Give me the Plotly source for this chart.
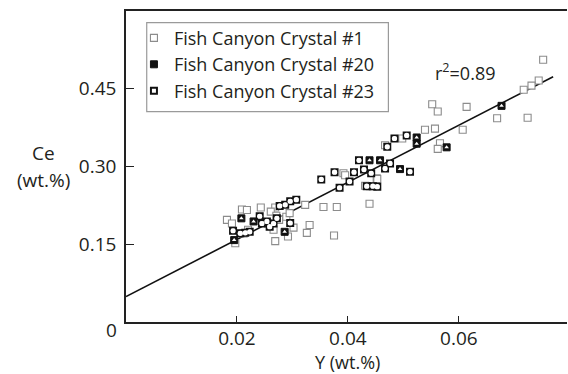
import plotly.graph_objects as go

# ---- data ----
x1 = [0.0752, 0.0744, 0.0731, 0.0717, 0.0724, 0.0669, 0.0614, 0.0607, 0.0552, 0.0562,
      0.0539, 0.0557, 0.0566, 0.0562, 0.0498, 0.0467, 0.0439, 0.0431, 0.0452, 0.0392,
      0.0356, 0.0380, 0.0375, 0.0326, 0.0331, 0.0302, 0.0292, 0.0269, 0.0266, 0.0269,
      0.0243, 0.0209, 0.0182, 0.0191, 0.0197, 0.0212, 0.0220, 0.0276, 0.0289, 0.0295,
      0.0256, 0.0261, 0.0271, 0.0323, 0.0218, 0.0453, 0.0440, 0.0395]
y1 = [0.506, 0.466, 0.456, 0.448, 0.394, 0.393, 0.415, 0.371, 0.420, 0.406,
      0.371, 0.373, 0.345, 0.334, 0.354, 0.341, 0.228, 0.263, 0.277, 0.287,
      0.222, 0.222, 0.167, 0.172, 0.187, 0.182, 0.165, 0.156, 0.178, 0.221,
      0.221, 0.217, 0.197, 0.190, 0.152, 0.171, 0.178, 0.197, 0.203, 0.210,
      0.190, 0.213, 0.205, 0.226, 0.216, 0.276, 0.262, 0.283]

x20 = [0.0677, 0.0578, 0.0524, 0.0524, 0.0494, 0.0458, 0.0439, 0.0286, 0.0230, 0.0208, 0.0195]
y20 = [0.417, 0.337, 0.356, 0.344, 0.295, 0.312, 0.312, 0.174, 0.194, 0.200, 0.158]

x23 = [0.0506, 0.0484, 0.0471, 0.0512, 0.0476, 0.0467, 0.0442, 0.0429, 0.0420, 0.0411,
       0.0403, 0.0385, 0.0376, 0.0352, 0.0434, 0.0445, 0.0453, 0.0307, 0.0296, 0.0287,
       0.0277, 0.0296, 0.0266, 0.0259, 0.0254, 0.0245, 0.0241, 0.0223, 0.0215, 0.0206,
       0.0193, 0.0272]
y23 = [0.360, 0.354, 0.338, 0.290, 0.306, 0.296, 0.287, 0.294, 0.312, 0.289,
       0.271, 0.259, 0.289, 0.275, 0.262, 0.262, 0.261, 0.236, 0.233, 0.226,
       0.224, 0.191, 0.190, 0.184, 0.194, 0.190, 0.204, 0.174, 0.172, 0.171,
       0.176, 0.200]

series_names = ["Fish Canyon Crystal #1", "Fish Canyon Crystal #20", "Fish Canyon Crystal #23"]

fit_intercept = 0.049
fit_slope = 5.51
fit_x = [0.0, 0.0770]
fit_y = [fit_intercept + fit_slope * v for v in fit_x]

x_ticks = [0.02, 0.04, 0.06]
x_ticklabels = ["0.02", "0.04", "0.06"]
y_ticks = [0.15, 0.30, 0.45]
y_ticklabels = ["0.15", "0.30", "0.45"]

FONT = "Open Sans"
TXT = "#231f20"
FS = 19
FS_LEG = 18

fig = go.Figure()

fig.add_trace(go.Scatter(x=fit_x, y=fit_y, mode="lines", showlegend=False,
                         line=dict(color="#111111", width=1.6), hoverinfo="skip"))

fig.add_trace(go.Scatter(x=x1, y=y1, mode="markers", name=series_names[0], legendrank=1,
                         marker=dict(symbol="square", size=7, color="white",
                                     line=dict(color="#8c8c8c", width=1.1))))

fig.add_trace(go.Scatter(x=x23, y=y23, mode="markers", name=series_names[2], legendrank=3,
                         marker=dict(symbol="square", size=6, color="white",
                                     line=dict(color="#111111", width=2))))
fig.add_trace(go.Scatter(x=x23, y=y23, mode="markers", showlegend=False, hoverinfo="skip",
                         marker=dict(symbol="circle", size=5.2, color="white",
                                     line=dict(width=0))))

fig.add_trace(go.Scatter(x=x20, y=y20, mode="markers", name=series_names[1], legendrank=2,
                         marker=dict(symbol="square", size=7, color="#111111",
                                     line=dict(color="#111111", width=1))))
fig.add_trace(go.Scatter(x=x20, y=y20, mode="markers", showlegend=False, hoverinfo="skip",
                         marker=dict(symbol="triangle-up", size=4, color="white",
                                     line=dict(width=0))))

fig.update_layout(
    width=568, height=374,
    margin=dict(l=126, r=1, t=11, b=52),
    paper_bgcolor="white", plot_bgcolor="white",
    font=dict(family=FONT, size=FS, color=TXT),
    showlegend=True,
    legend=dict(x=0.018, y=0.972, xanchor="left", yanchor="top",
                bgcolor="rgba(0,0,0,0)", borderwidth=0,
                font=dict(family=FONT, size=FS_LEG, color=TXT),
                tracegroupgap=0),
    shapes=[dict(type="rect", xref="paper", yref="paper",
                 x0=0.047, x1=0.595, y0=0.6765, y1=0.9624,
                 line=dict(color="#9a9a9a", width=1.2), fillcolor="rgba(0,0,0,0)",
                 layer="above")],
    annotations=[
        dict(text="r<sup>2</sup>=0.89", xref="paper", yref="paper", x=0.769, y=0.804,
             xanchor="center", yanchor="middle",
             showarrow=False, font=dict(family=FONT, size=FS_LEG, color=TXT)),
        dict(text="Ce", xref="paper", yref="paper", x=0, y=0.30 / 0.6, xshift=-83,
             yshift=14, xanchor="center", yanchor="middle",
             showarrow=False, font=dict(family=FONT, size=FS, color=TXT)),
        dict(text="(wt.%)", xref="paper", yref="paper", x=0, y=0.30 / 0.6, xshift=-83,
             yshift=-13, xanchor="center", yanchor="middle",
             showarrow=False, font=dict(family=FONT, size=FS, color=TXT)),
        dict(text="Y (wt.%)", xref="paper", yref="paper", x=0.503, y=0, yshift=-40,
             xanchor="center", yanchor="middle",
             showarrow=False, font=dict(family=FONT, size=FS_LEG, color=TXT)),
        dict(text="0", xref="paper", yref="paper", x=0, y=0, xanchor="right",
             yanchor="middle", xshift=-7, yshift=-8, showarrow=False,
             font=dict(family=FONT, size=FS, color=TXT)),
    ],
)

fig.update_xaxes(range=[0, 0.0795], tickvals=x_ticks, ticktext=x_ticklabels,
                 ticks="inside", ticklen=6, tickwidth=1.2, tickcolor="#222",
                 showline=True, linecolor="#222", linewidth=1.6, mirror=True,
                 showgrid=False, zeroline=False, ticklabelstandoff=-2,
                 tickfont=dict(family=FONT, size=FS, color=TXT))
fig.update_yaxes(range=[0, 0.6], tickvals=y_ticks, ticktext=y_ticklabels,
                 ticks="inside", ticklen=8, tickwidth=1.2, tickcolor="#222",
                 showline=True, linecolor="#222", linewidth=1.6, mirror=False,
                 showgrid=False, zeroline=False, ticklabelstandoff=4,
                 tickfont=dict(family=FONT, size=FS, color=TXT))

fig.write_html("out.html")
